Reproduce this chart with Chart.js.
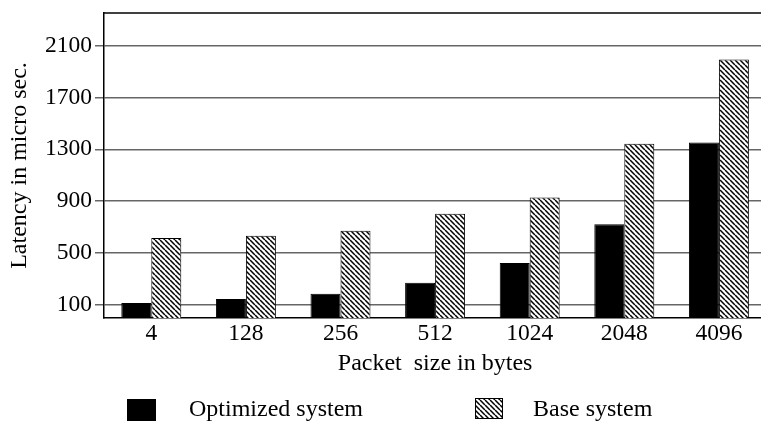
<!DOCTYPE html>
<html>
<head>
<meta charset="utf-8">
<script src="https://cdn.jsdelivr.net/npm/chart.js@4/dist/chart.umd.min.js"></script>
<style>
  html, body { margin: 0; padding: 0; background: #fff; overflow: hidden; width: 761px; height: 421px; }
  canvas { display: block; }
</style>
</head>
<body>
<canvas id="c" width="770" height="421"></canvas>
<script>
const categories = ['4', '128', '256', '512', '1024', '2048', '4096'];
const optimizedValues = [115, 146, 187, 272, 423, 722, 1352];
const baseValues = [616, 634, 673, 804, 929, 1342, 1991];
const yTickValues = [100, 500, 900, 1300, 1700, 2100];
const seriesNames = ['Optimized system', 'Base system'];
const xTitle = 'Packet  size in bytes';
const yTitle = 'Latency in micro sec.';

const FONT = "'Liberation Serif', 'DejaVu Serif', serif";

function makeHatch() {
  const s = 5;
  const pc = document.createElement('canvas');
  pc.width = s; pc.height = s;
  const p = pc.getContext('2d');
  p.fillStyle = '#fff';
  p.fillRect(0, 0, s, s);
  p.strokeStyle = '#000';
  p.lineWidth = 1.5;
  p.beginPath();
  for (const k of [-s, 0, s]) {
    p.moveTo(k, 0);
    p.lineTo(k + s, s);
  }
  p.stroke();
  return document.getElementById('c').getContext('2d').createPattern(pc, 'repeat');
}
const hatch = makeHatch();

const framePlugin = {
  id: 'frame',
  afterDraw(chart) {
    const ctx = chart.ctx;
    const a = chart.chartArea;
    ctx.save();
    ctx.strokeStyle = '#000';
    ctx.lineWidth = 1.5;
    ctx.beginPath();
    ctx.moveTo(a.left, a.top);
    ctx.lineTo(chart.width, a.top);
    ctx.stroke();
    // legend
    ctx.fillStyle = '#000';
    ctx.fillRect(127, 399, 29, 22);
    ctx.fillStyle = hatch;
    ctx.fillRect(475, 398, 28, 21);
    ctx.lineWidth = 1;
    ctx.strokeRect(475.5, 398.5, 27, 20);
    ctx.fillStyle = '#000';
    ctx.font = '24px ' + FONT;
    ctx.textBaseline = 'middle';
    ctx.textAlign = 'left';
    ctx.fillText(seriesNames[0], 189, 410);
    ctx.fillText(seriesNames[1], 533, 410);
    ctx.restore();
  }
};

new Chart(document.getElementById('c'), {
  type: 'bar',
  data: {
    labels: categories,
    datasets: [
      { label: seriesNames[0], data: optimizedValues, backgroundColor: '#000', borderColor: '#000', borderWidth: 1 },
      { label: seriesNames[1], data: baseValues, backgroundColor: hatch, borderColor: '#000', borderWidth: 1 }
    ]
  },
  options: {
    responsive: false,
    animation: false,
    events: [],
    layout: { padding: { left: 0, right: 3.8, top: 13, bottom: 43 } },
    datasets: { bar: { categoryPercentage: 0.634, barPercentage: 1.0 } },
    plugins: { legend: { display: false }, tooltip: { enabled: false } },
    scales: {
      x: {
        grid: { display: false, drawTicks: false },
        border: { display: true, color: '#000', width: 1.5 },
        ticks: { color: '#000', font: { family: FONT, size: 23.5 }, padding: 2, maxRotation: 0 },
        title: { display: true, text: xTitle, color: '#000', font: { family: FONT, size: 24 }, padding: { top: 0, bottom: 0 } },
        afterFit(scale) { scale.height = 60; scale.paddingLeft = 0; scale.paddingRight = 0; }
      },
      y: {
        min: 0,
        max: 2350,
        afterBuildTicks(scale) { scale.ticks = yTickValues.map(v => ({ value: v })); },
        grid: { color: '#666', lineWidth: 1.5, tickLength: 9, drawTicks: true },
        border: { display: true, color: '#000', width: 1.5 },
        ticks: { color: '#000', font: { family: FONT, size: 23.5 }, padding: 3, callback: v => String(v) },
        title: { display: true, text: yTitle, color: '#000', font: { family: FONT, size: 24 }, padding: { top: 5, bottom: 0 } },
        afterFit(scale) { scale.width = 104; scale.paddingTop = 0; scale.paddingBottom = 0; }
      }
    }
  },
  plugins: [framePlugin]
});
</script>
</body>
</html>
